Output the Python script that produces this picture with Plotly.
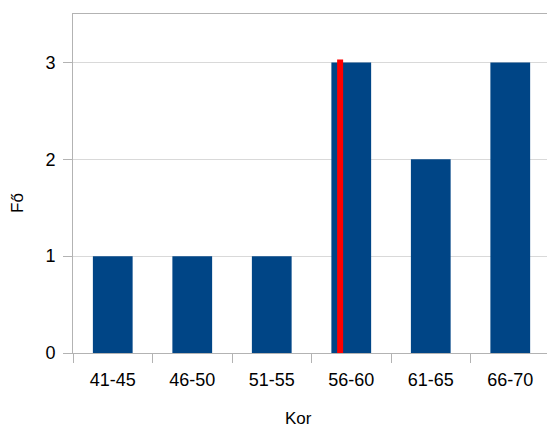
import plotly.graph_objects as go

# Age groups and head counts
age_groups = ["41-45", "46-50", "51-55", "56-60", "61-65", "66-70"]
counts = [1, 1, 1, 3, 2, 3]

# Marker line position on the category axis and its height
marker_x = 2.86
marker_top = 3.03

y_ticks = [0, 1, 2, 3]

FONT = "Liberation Sans, Arial, sans-serif"
AXIS_COLOR = "#b3b3b3"
GRID_COLOR = "#d9d9d9"

fig = go.Figure()
fig.add_trace(go.Bar(
    x=age_groups,
    y=counts,
    marker=dict(color="#004586", line=dict(width=0)),
    hoverinfo="x+y",
))

fig.add_shape(
    type="line", xref="x", yref="y",
    x0=marker_x, x1=marker_x, y0=0, y1=marker_top,
    line=dict(color="#ff0000", width=6),
    layer="above",
)

fig.add_annotation(
    text="Kor", xref="paper", yref="paper",
    x=(298.5 - 73) / 474, y=-(418 - 353) / 339,
    xanchor="center", yanchor="middle", showarrow=False,
    borderpad=0,
    font=dict(family=FONT, size=17, color="#000000"),
)
fig.add_annotation(
    text="Fő", xref="paper", yref="paper",
    x=-(73 - 17) / 474, y=(353 - 203) / 339,
    xanchor="center", yanchor="middle", showarrow=False, textangle=-90,
    borderpad=0,
    font=dict(family=FONT, size=17, color="#000000"),
)

fig.update_layout(
    width=547, height=427,
    margin=dict(l=73, r=0, t=14, b=74),
    paper_bgcolor="white", plot_bgcolor="white",
    bargap=0.5,
    showlegend=False,
    font=dict(family=FONT, size=18, color="#000000"),
)

fig.update_xaxes(
    type="category",
    range=[-0.5, 5.462],
    tickson="boundaries",
    ticks="outside", ticklen=9, tickcolor=AXIS_COLOR, tickwidth=1,
    showline=True, linecolor=AXIS_COLOR, linewidth=1, mirror=True,
    showgrid=False,
    ticklabelstandoff=10,
    tickfont=dict(family=FONT, size=18, color="#000000"),
)
fig.update_yaxes(
    range=[0, 3.5],
    tickvals=y_ticks,
    ticks="outside", ticklen=9, tickcolor=AXIS_COLOR, tickwidth=1,
    showline=True, linecolor=AXIS_COLOR, linewidth=1,
    showgrid=True, gridcolor=GRID_COLOR, gridwidth=1,
    zeroline=False,
    ticklabelstandoff=4,
    tickfont=dict(family=FONT, size=18, color="#000000"),
)

fig.write_html("out.html")
